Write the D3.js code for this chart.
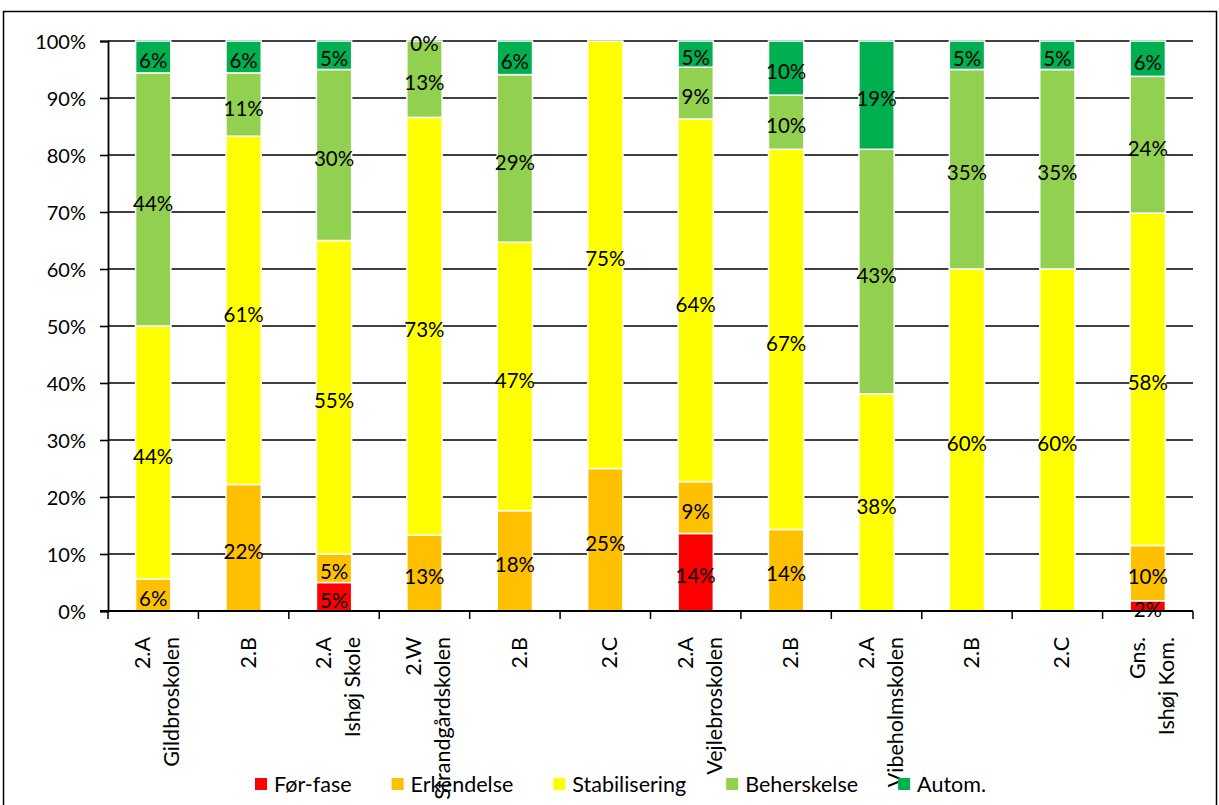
<!DOCTYPE html>
<html>
<head>
<meta charset="utf-8">
<script src="https://cdn.jsdelivr.net/npm/d3@7"></script>
<style>
  body { margin: 0; background: #fff; }
  svg { display: block; font-family: Lato, "Open Sans", sans-serif; }
</style>
</head>
<body>
<div class="chart"></div>
<script>
// data (percent of pupils per phase)
var classes = ["2.A", "2.B", "2.A", "2.W", "2.B", "2.C", "2.A", "2.B", "2.A", "2.B", "2.C", "Gns."];
var schools = ["Gildbroskolen", "", "Ishøj Skole", "Strandgårdskolen", "", "", "Vejlebroskolen", "", "Vibeholmskolen", "", "", "Ishøj Kom."];

var forFase       = [null, null, 5,  null, null, null, 13.6, null, null, null, null, 1.8];
var erkendelse    = [5.6, 22.2, 5,  13.3, 17.6, 25,   9.1,  14.3, null, null, null, 9.7];
var stabilisering = [44.4, 61.1, 55, 73.3, 47.1, 75,   63.6, 66.7, 38.1, 60,   60,   58.3];
var beherskelse   = [44.4, 11.1, 30, 13.4, 29.4, null, 9.1,  9.5,  42.9, 35,   35,   24.0];
var autom         = [5.6, 5.6,  5,  0,    5.9,  null, 4.6,  9.5,  19.0, 5,    5,    6.2];

var seriesNames = ["Før-fase", "Erkendelse", "Stabilisering", "Beherskelse", "Autom."];
var seriesColors = ["#FF0000", "#FFC000", "#FFFF00", "#92D050", "#00B050"];
var seriesValues = [forFase, erkendelse, stabilisering, beherskelse, autom];

var yTicks = [0, 10, 20, 30, 40, 50, 60, 70, 80, 90, 100];

// Step 0: set up the chart
var svgWidth = 1219;
var svgHeight = 805;
var margin = { top: 41, right: 26, bottom: 194, left: 108 };
var width = svgWidth - margin.left - margin.right;
var height = svgHeight - margin.top - margin.bottom;

var svg = d3.select(".chart")
  .append("svg")
  .attr("width", svgWidth)
  .attr("height", svgHeight);

// outer frame (bottom runs off the picture)
svg.append("rect")
  .attr("x", 3.5).attr("y", 11.5)
  .attr("width", 1213).attr("height", 820)
  .attr("fill", "none")
  .attr("stroke", "#000")
  .attr("stroke-width", 1.5);

var chart = svg.append("g")
  .attr("transform", "translate(" + margin.left + "," + margin.top + ")");

var rows = classes.map(function(c, i) {
  var row = { idx: i };
  seriesNames.forEach(function(s, k) { row[s] = seriesValues[k][i] || 0; });
  return row;
});

var stack = d3.stack().keys(seriesNames);
var stacked = stack(rows);

var xScale = d3.scaleBand()
  .domain(d3.range(classes.length))
  .range([0, width])
  .paddingInner(0.61)
  .paddingOuter(0.305);

var yScale = d3.scaleLinear().domain([0, 100]).range([height, 0]);

// gridlines
chart.append("g")
  .selectAll("line")
  .data(yTicks.slice(1))
  .enter()
  .append("line")
  .attr("x1", 0)
  .attr("x2", width)
  .attr("y1", function(d) { return yScale(d); })
  .attr("y2", function(d) { return yScale(d); })
  .attr("stroke", "#000")
  .attr("stroke-width", 1.6);

// bars
var layers = chart.selectAll(".layer")
  .data(stacked)
  .enter()
  .append("g")
  .attr("class", "layer")
  .attr("fill", function(d, k) { return seriesColors[k]; });

layers.selectAll("rect")
  .data(function(d, k) {
    return d.map(function(p, i) { return { p: p, i: i, k: k }; })
      .filter(function(o) { return seriesValues[o.k][o.i] !== null; });
  })
  .enter()
  .append("rect")
  .attr("x", function(o) { return xScale(o.i); })
  .attr("width", xScale.bandwidth())
  .attr("y", function(o) { return yScale(o.p[1]); })
  .attr("height", function(o) { return yScale(o.p[0]) - yScale(o.p[1]); })
  .attr("stroke", "#fff")
  .attr("stroke-width", 1.5);

// y axis
var leftAxis = d3.axisLeft(yScale)
  .tickValues(yTicks)
  .tickSize(8)
  .tickPadding(14)
  .tickFormat(function(d) { return d + "%"; });

var yAxisG = chart.append("g").call(leftAxis);
yAxisG.select(".domain").attr("stroke", "#000").attr("stroke-width", 1.8);
yAxisG.selectAll(".tick line").attr("stroke", "#000").attr("stroke-width", 1.6);
yAxisG.selectAll(".tick text")
  .attr("font-family", "Lato, sans-serif")
  .attr("font-size", 20)
  .attr("dy", "0.38em")
  .attr("fill", "#000");

// x axis: ticks on band edges
var edgeScale = d3.scaleLinear().domain([0, classes.length]).range([0, width]);
var xAxisG = chart.append("g")
  .attr("transform", "translate(0," + height + ")");
xAxisG.append("line")
  .attr("x1", -8).attr("x2", width)
  .attr("stroke", "#000").attr("stroke-width", 1.8);
xAxisG.selectAll(".edge")
  .data(d3.range(classes.length + 1))
  .enter()
  .append("line")
  .attr("class", "edge")
  .attr("x1", function(d) { return edgeScale(d); })
  .attr("x2", function(d) { return edgeScale(d); })
  .attr("y1", 0).attr("y2", 8)
  .attr("stroke", "#000").attr("stroke-width", 1.5);

// category labels, rotated
var catLabels = xAxisG.selectAll(".cat")
  .data(classes)
  .enter()
  .append("g")
  .attr("class", "cat")
  .attr("transform", function(d, i) {
    return "translate(" + (xScale(i) + xScale.bandwidth() / 2) + ",26) rotate(-90)";
  });

catLabels.each(function(c, i) {
  var g = d3.select(this);
  var lines = schools[i] ? [c, schools[i]] : [c];
  var offsets = lines.length === 2 ? [-3, 26] : [12];
  lines.forEach(function(t, j) {
    g.append("text")
      .attr("x", 0)
      .attr("y", offsets[j])
      .attr("text-anchor", "end")
      .attr("font-size", 21.5)
      .attr("fill", "#000")
      .text(t);
  });
});

// value labels
var fmt = d3.format(".0f");
layers.selectAll(".val")
  .data(function(d, k) {
    return d.map(function(p, i) { return { p: p, i: i, k: k }; })
      .filter(function(o) { return seriesValues[o.k][o.i] !== null; });
  })
  .enter()
  .append("text")
  .attr("class", "val")
  .attr("x", function(o) { return xScale(o.i) + xScale.bandwidth() / 2; })
  .attr("y", function(o) {
    var v = seriesValues[o.k][o.i];
    if (v === 0) return yScale(o.p[1]) + 3;
    return yScale((o.p[0] + o.p[1]) / 2) + 4;
  })
  .attr("dy", "0.35em")
  .attr("text-anchor", "middle")
  .attr("font-size", 20.5)
  .attr("fill", "#000")
  .text(function(o) { return fmt(seriesValues[o.k][o.i]) + "%"; });

// legend
var legend = svg.append("g").attr("transform", "translate(255,784)");
var lx = 0;
seriesNames.forEach(function(name, k) {
  var item = legend.append("g").attr("transform", "translate(" + lx + ",0)");
  item.append("rect")
    .attr("x", 0).attr("y", -6)
    .attr("width", 12).attr("height", 12)
    .attr("fill", seriesColors[k]);
  var t = item.append("text")
    .attr("x", 19)
    .attr("dy", "0.35em")
    .attr("font-size", 21.5)
    .attr("fill", "#000")
    .text(name);
  lx += 19 + t.node().getComputedTextLength() + 40;
});
</script>
</body>
</html>
